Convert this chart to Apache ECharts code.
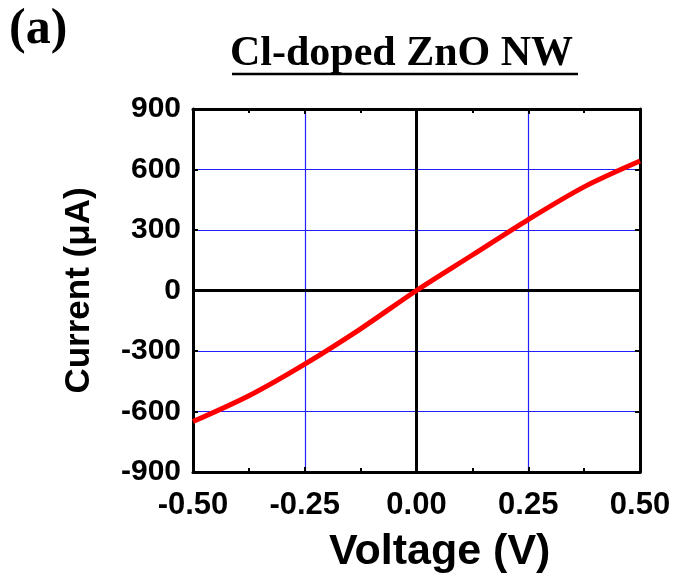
<!DOCTYPE html>
<html>
<head>
<meta charset="utf-8">
<script src="https://cdn.jsdelivr.net/npm/echarts@6/dist/echarts.min.js"></script>
<style>
  html, body { margin: 0; padding: 0; background: #fff; }
  #chart { width: 679px; height: 574px; }
</style>
</head>
<body>
<div id="chart"></div>
<script>
// I-V curve
const voltage = [-0.5, -0.375, -0.25, -0.125, 0, 0.125, 0.25, 0.375, 0.5]
const current = [-650, -522, -365, -190, 0, 176, 352, 514, 642]

const xTicks = [-0.5, -0.25, 0, 0.25, 0.5]
const yTicks = [-900, -600, -300, 0, 300, 600, 900]

const sans  = 'Liberation Sans, Arial, sans-serif'
const serif = 'Liberation Serif, Times New Roman, serif'

const chart = echarts.init(document.getElementById('chart'), null, { renderer: 'canvas' })

const frame = { show: true, onZero: false, lineStyle: { color: '#000', width: 3 } }
const ticks = { show: true, inside: true, length: 5, lineStyle: { color: '#000', width: 2 } }

chart.setOption({
  backgroundColor: '#fff',
  animation: false,
  grid: { left: 193, right: 39, top: 109, bottom: 102 },
  graphic: [
    { type: 'text', left: 9, top: 5,
      style: { text: '(a)', font: 'bold 50px ' + serif, fill: '#000' } },
    { type: 'text', left: 230, top: 33,
      style: { text: 'Cl-doped ZnO NW', font: 'bold 42px ' + serif, fill: '#000' } },
    { type: 'line', shape: { x1: 232, y1: 74, x2: 578, y2: 74 },
      style: { stroke: '#000', lineWidth: 2.5 } },
    // x-axis title sits right of the plot centre in the original
    { type: 'text', left: 329, top: 531,
      style: { text: 'Voltage (V)', font: 'bold 43px ' + sans, fill: '#000' } },
  ],
  xAxis: [
    {
      type: 'value', min: -0.5, max: 0.5, interval: 0.25,
      axisLine: frame,
      axisTick: ticks,
      minorTick: { show: true, splitNumber: 2, length: 4, lineStyle: { color: '#000', width: 2 } },
      axisLabel: { color: '#000', fontSize: 31, fontWeight: 'bold', fontFamily: sans, margin: 18,
                   formatter: v => v.toFixed(2) },
      splitLine: { show: true, lineStyle: { color: '#2020ff', width: 1.2 } },
    },
    {
      type: 'value', position: 'top', min: -0.5, max: 0.5, interval: 0.25,
      axisLine: frame,
      axisTick: ticks,
      minorTick: { show: true, splitNumber: 2, length: 4, lineStyle: { color: '#000', width: 2 } },
      axisLabel: { show: false }, splitLine: { show: false },
    },
  ],
  yAxis: [
    {
      type: 'value', min: -900, max: 900, interval: 300,
      name: 'Current (μA)', nameLocation: 'middle', nameGap: 96,
      nameTextStyle: { color: '#000', fontSize: 35, fontWeight: 'bold', fontFamily: sans },
      axisLine: frame,
      axisTick: ticks,
      axisLabel: { color: '#000', fontSize: 30, fontWeight: 'bold', fontFamily: sans, margin: 12 },
      splitLine: { show: true, lineStyle: { color: '#2020ff', width: 1.2 } },
    },
    {
      type: 'value', position: 'right', min: -900, max: 900, interval: 300,
      axisLine: frame,
      axisTick: ticks,
      axisLabel: { show: false }, splitLine: { show: false },
    },
  ],
  series: [
    {
      type: 'line',
      data: voltage.map((v, i) => [v, current[i]]),
      smooth: 0.3, symbol: 'none',
      lineStyle: { color: '#ff0000', width: 5 },
      z: 5,
      markLine: {
        silent: true, symbol: 'none', label: { show: false },
        lineStyle: { color: '#000', width: 3, type: 'solid' },
        data: [{ xAxis: 0 }, { yAxis: 0 }],
        z: 3,
      },
    },
  ],
})
</script>
</body>
</html>
